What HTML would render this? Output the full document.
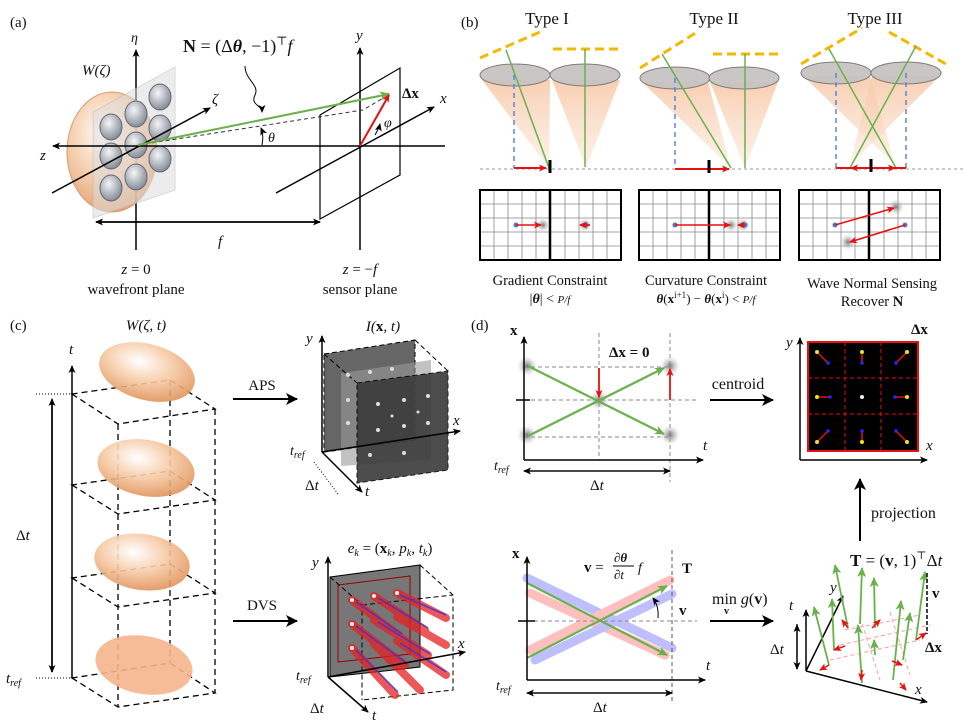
<!DOCTYPE html>
<html><head><meta charset="utf-8"><style>
html,body{margin:0;padding:0;background:#fff}
svg{display:block}
text{font-family:"Liberation Serif","DejaVu Serif",serif;fill:#111}
.i{font-style:italic}
</style></head><body>
<svg width="963" height="724" viewBox="0 0 963 724" xmlns="http://www.w3.org/2000/svg">
<defs>
<marker id="ak" markerWidth="8" markerHeight="8" refX="7" refY="4" orient="auto" markerUnits="userSpaceOnUse"><path d="M0,0.5 L8,4 L0,7.5 L2,4z" fill="#000"/></marker>
<marker id="ar" markerWidth="8" markerHeight="8" refX="7" refY="4" orient="auto" markerUnits="userSpaceOnUse"><path d="M0,0.5 L8,4 L0,7.5 L2,4z" fill="#e81010"/></marker>
<marker id="ag" markerWidth="10" markerHeight="10" refX="9" refY="5" orient="auto" markerUnits="userSpaceOnUse"><path d="M0,0.5 L10,5 L0,9.5 L2.5,5z" fill="#6ab04c"/></marker>
<marker id="abig" markerWidth="12" markerHeight="12" refX="11" refY="6" orient="auto" markerUnits="userSpaceOnUse"><path d="M0,0 L12,6 L0,12 L3,6z" fill="#000"/></marker>
<radialGradient id="og" cx="0.4" cy="0.35" r="0.7"><stop offset="0" stop-color="#fff"/><stop offset="0.5" stop-color="#f6c9a3"/><stop offset="1" stop-color="#df8e55"/></radialGradient>
<radialGradient id="lg" cx="0.4" cy="0.35" r="0.7"><stop offset="0" stop-color="#f4f6f8"/><stop offset="1" stop-color="#7d8590"/></radialGradient>
<radialGradient id="blob"><stop offset="0" stop-color="#777"/><stop offset="1" stop-color="#ccc" stop-opacity="0"/></radialGradient>
<linearGradient id="cone" x1="0" y1="0" x2="0" y2="1"><stop offset="0" stop-color="#f8c9a9" stop-opacity=".9"/><stop offset="1" stop-color="#fbe3d2" stop-opacity=".5"/></linearGradient>
</defs>

<!-- ===== (a) ===== -->
<text x="10" y="27" font-size="15">(a)</text>
<line x1="136" y1="250" x2="136" y2="50" stroke="#000" stroke-width="1.5" marker-end="url(#ak)"/>
<text x="131" y="42" font-size="14" class="i">η</text>
<ellipse cx="112" cy="152" rx="45" ry="60" fill="url(#og)" stroke="#d08a55" opacity=".85"/>
<polygon points="93,112 175,67 175,190 93,218" fill="#ddd" opacity=".55" stroke="#bbb"/>
<g fill="url(#lg)" stroke="#667">
<ellipse cx="111" cy="127" rx="11" ry="13"/><ellipse cx="136" cy="114" rx="11" ry="13"/><ellipse cx="160" cy="97" rx="11" ry="13"/>
<ellipse cx="111" cy="156" rx="11" ry="13"/><ellipse cx="136" cy="145" rx="11" ry="13"/><ellipse cx="160" cy="128" rx="11" ry="13"/>
<ellipse cx="111" cy="188" rx="11" ry="13"/><ellipse cx="136" cy="177" rx="11" ry="13"/><ellipse cx="160" cy="159" rx="11" ry="13"/>
</g>
<text x="82" y="75" font-size="15" class="i">W(ζ)</text>
<line x1="445" y1="146" x2="53" y2="146" stroke="#000" stroke-width="1.5" marker-end="url(#ak)"/>
<text x="40" y="160" font-size="15" class="i">z</text>
<line x1="52" y1="193" x2="210" y2="108" stroke="#000" stroke-width="1.5" marker-end="url(#ak)"/>
<text x="212" y="104" font-size="15" class="i">ζ</text>
<polygon points="320,115 400,68 400,175 320,219" fill="none" stroke="#000" stroke-width="1.2"/>
<line x1="360" y1="250" x2="360" y2="48" stroke="#000" stroke-width="1.5" marker-end="url(#ak)"/>
<text x="356" y="40" font-size="15" class="i">y</text>
<line x1="276" y1="193" x2="434" y2="107" stroke="#000" stroke-width="1.5" marker-end="url(#ak)"/>
<text x="440" y="103" font-size="15" class="i">x</text>
<path d="M138,145 L363,110 L390,94" fill="none" stroke="#333" stroke-dasharray="4,3"/>
<line x1="138" y1="145" x2="389" y2="94" stroke="#6ab04c" stroke-width="2" marker-end="url(#ag)"/>
<line x1="360" y1="146" x2="389" y2="95" stroke="#e81010" stroke-width="2" marker-end="url(#ar)"/>
<text x="402" y="98" font-size="15" font-weight="bold">Δx</text>
<text x="384" y="127" font-size="14" class="i">φ</text>
<path d="M262,145 Q264,135 261,128" fill="none" stroke="#000" marker-end="url(#ak)"/>
<text x="268" y="142" font-size="14" class="i">θ</text>
<path d="M375,135 Q379,128 380,124" fill="none" stroke="#000" marker-end="url(#ak)"/>
<text x="183" y="52" font-size="18"><tspan font-weight="bold">N</tspan> = (Δ<tspan font-weight="bold" class="i">θ</tspan>, −1)<tspan font-size="12" dy="-7">⊤</tspan><tspan dy="7" class="i">f</tspan></text>
<path d="M245,66 C245,80 260,85 255,95 S262,105 262,112" fill="none" stroke="#000" marker-end="url(#ak)"/>
<line x1="320" y1="222" x2="96" y2="222" stroke="#000" stroke-width="1.5" marker-end="url(#ak)"/>
<line x1="96" y1="222" x2="320" y2="222" stroke="#000" stroke-width="1.5" marker-end="url(#ak)"/>
<text x="218" y="246" font-size="15" class="i">f</text>
<text x="136" y="274" font-size="15" text-anchor="middle"><tspan class="i">z</tspan> = 0</text>
<text x="136" y="294" font-size="15" text-anchor="middle">wavefront plane</text>
<text x="360" y="274" font-size="15" text-anchor="middle"><tspan class="i">z</tspan> = −<tspan class="i">f</tspan></text>
<text x="360" y="294" font-size="15" text-anchor="middle">sensor plane</text>

<!-- ===== (b) ===== -->
<text x="461" y="27" font-size="15">(b)</text>
<text x="547" y="24" font-size="17" text-anchor="middle">Type I</text>
<text x="714" y="24" font-size="17" text-anchor="middle">Type II</text>
<text x="875" y="24" font-size="17" text-anchor="middle">Type III</text>
<line x1="480" y1="169" x2="963" y2="169" stroke="#999" stroke-dasharray="3,3"/>
<g fill="url(#cone)">
<polygon points="482,80 550,80 549,168"/><polygon points="552,80 620,80 586,168"/>
<polygon points="642,82 708,82 731,168"/><polygon points="710,82 778,82 745,168"/>
<polygon points="803,76 870,76 895,165"/><polygon points="872,76 940,76 850,165"/>
</g>
<g fill="#c8c4c2" stroke="#777" opacity=".95">
<ellipse cx="515" cy="75" rx="35" ry="11"/><ellipse cx="585" cy="75" rx="35" ry="11"/>
<ellipse cx="675" cy="78" rx="35" ry="11"/><ellipse cx="744" cy="78" rx="35" ry="11"/>
<ellipse cx="836" cy="73" rx="35" ry="11"/><ellipse cx="906" cy="73" rx="35" ry="11"/>
</g>
<g stroke="#f5b800" stroke-width="3" stroke-dasharray="9,5" fill="none">
<line x1="480" y1="58" x2="540" y2="32"/><line x1="553" y1="49" x2="620" y2="49"/>
<line x1="640" y1="68" x2="697" y2="32"/><line x1="713" y1="54" x2="778" y2="54"/>
<line x1="801" y1="64" x2="862" y2="28"/><line x1="889" y1="32" x2="946" y2="64"/>
</g>
<g stroke="#5b86d9" stroke-width="1.5" stroke-dasharray="5,4">
<line x1="514" y1="75" x2="514" y2="168"/><line x1="675" y1="78" x2="675" y2="168"/>
<line x1="836" y1="73" x2="836" y2="168"/><line x1="906" y1="73" x2="906" y2="168"/>
</g>
<g stroke="#6ab04c" stroke-width="1.5">
<line x1="506" y1="50" x2="549" y2="168"/><line x1="585" y1="49" x2="585" y2="167"/>
<line x1="662" y1="54" x2="731" y2="168"/><line x1="745" y1="54" x2="745" y2="168"/>
<line x1="829" y1="49" x2="896" y2="168"/><line x1="916" y1="46" x2="850" y2="168"/>
</g>
<g stroke="#e81010" stroke-width="2">
<line x1="514" y1="168" x2="546" y2="168" marker-end="url(#ar)"/>
<line x1="675" y1="169" x2="729" y2="169" marker-end="url(#ar)"/>
<line x1="836" y1="168" x2="906" y2="168"/>
<line x1="870" y1="168" x2="851" y2="168" marker-end="url(#ar)"/>
<line x1="880" y1="168" x2="895" y2="168" marker-end="url(#ar)"/>
</g>
<g stroke="#000" stroke-width="3"><line x1="550" y1="160" x2="550" y2="173"/><line x1="709" y1="160" x2="709" y2="173"/><line x1="871" y1="159" x2="871" y2="172"/></g>
<g id="grid">
<g stroke="#888" stroke-width="0.8">
<line x1="494" y1="190" x2="494" y2="260"/><line x1="508" y1="190" x2="508" y2="260"/><line x1="522" y1="190" x2="522" y2="260"/><line x1="536" y1="190" x2="536" y2="260"/>
<line x1="565" y1="190" x2="565" y2="260"/><line x1="579" y1="190" x2="579" y2="260"/><line x1="593" y1="190" x2="593" y2="260"/><line x1="607" y1="190" x2="607" y2="260"/>
<line x1="480" y1="204" x2="621" y2="204"/><line x1="480" y1="218" x2="621" y2="218"/><line x1="480" y1="232" x2="621" y2="232"/><line x1="480" y1="246" x2="621" y2="246"/>
</g>
<rect x="480" y="190" width="141" height="70" fill="none" stroke="#000" stroke-width="2"/>
<line x1="550" y1="190" x2="550" y2="260" stroke="#000" stroke-width="2.5"/>
</g>
<use href="#grid" x="159"/><use href="#grid" x="319"/>
<g fill="url(#blob)"><circle cx="543" cy="225" r="7"/><circle cx="585" cy="225" r="7"/><circle cx="731" cy="225" r="7"/><circle cx="743" cy="225" r="7"/><circle cx="896" cy="207" r="8"/><circle cx="848" cy="242" r="8"/></g>
<g fill="#4a78d8"><circle cx="516" cy="225" r="2.5"/><circle cx="586" cy="225" r="2.5"/><circle cx="675" cy="225" r="2.5"/><circle cx="745" cy="225" r="2.5"/><circle cx="835" cy="225" r="2.5"/><circle cx="905" cy="225" r="2.5"/></g>
<g stroke="#e81010" stroke-width="1.6">
<line x1="516" y1="225" x2="541" y2="225" marker-end="url(#ar)"/><line x1="590" y1="225" x2="580" y2="225" marker-end="url(#ar)"/>
<line x1="675" y1="225" x2="730" y2="225" marker-end="url(#ar)"/><line x1="745" y1="225" x2="738" y2="225" marker-end="url(#ar)"/>
<line x1="835" y1="225" x2="894" y2="208" marker-end="url(#ar)"/><line x1="905" y1="225" x2="850" y2="242" marker-end="url(#ar)"/>
</g>
<text x="550" y="285" font-size="14.5" text-anchor="middle">Gradient Constraint</text>
<text x="550" y="303" font-size="14" text-anchor="middle">|<tspan font-weight="bold" class="i">θ</tspan>| &lt; <tspan class="i" font-size="11">P/f</tspan></text>
<text x="706" y="285" font-size="14.5" text-anchor="middle">Curvature Constraint</text>
<text x="706" y="303" font-size="13" text-anchor="middle"><tspan font-weight="bold" class="i">θ</tspan>(<tspan font-weight="bold">x</tspan><tspan font-size="9" dy="-5">i+1</tspan><tspan dy="5">) − </tspan><tspan font-weight="bold" class="i">θ</tspan>(<tspan font-weight="bold">x</tspan><tspan font-size="9" dy="-5">i</tspan><tspan dy="5">) &lt; </tspan><tspan class="i" font-size="11">P/f</tspan></text>
<text x="872" y="288" font-size="14.5" text-anchor="middle">Wave Normal Sensing</text>
<text x="872" y="306" font-size="14.5" text-anchor="middle">Recover <tspan font-weight="bold">N</tspan></text>

<!-- ===== (c) ===== -->
<text x="10" y="330" font-size="15">(c)</text>
<text x="146" y="330" font-size="15" text-anchor="middle" class="i">W(ζ, t)</text>
<line x1="72" y1="678" x2="72" y2="366" stroke="#000" stroke-width="1.5" marker-end="url(#ak)"/>
<text x="69" y="354" font-size="15" class="i">t</text>
<line x1="52" y1="400" x2="52" y2="672" stroke="#000" stroke-width="1.5" marker-end="url(#ak)"/>
<line x1="52" y1="672" x2="52" y2="399" stroke="#000" stroke-width="1.5" marker-end="url(#ak)"/>
<line x1="36" y1="394" x2="72" y2="394" stroke="#000" stroke-dasharray="1,2"/>
<line x1="36" y1="678" x2="72" y2="678" stroke="#000" stroke-dasharray="1,2"/>
<text x="16" y="540" font-size="15">Δ<tspan class="i">t</tspan></text>
<text x="6" y="683" font-size="15" class="i">t<tspan font-size="10" dy="3">ref</tspan></text>
<g fill="none" stroke="#000" stroke-width="1.3" stroke-dasharray="6,4">
<polygon points="72,394 118,424 215,409 170,380"/>
<polygon points="72,485 118,514 215,500 170,471"/>
<polygon points="72,578 118,607 215,593 170,564"/>
<polygon points="72,678 118,707 215,693 170,663"/>
<line x1="118" y1="424" x2="118" y2="707"/><line x1="215" y1="409" x2="215" y2="693"/><line x1="170" y1="380" x2="170" y2="663"/>
</g>
<ellipse cx="147" cy="372" rx="49" ry="28" transform="rotate(15 147 372)" fill="url(#og)" opacity=".9"/>
<ellipse cx="146" cy="468" rx="49" ry="28" transform="rotate(10 146 468)" fill="url(#og)" opacity=".9"/>
<ellipse cx="142" cy="562" rx="48" ry="28" transform="rotate(8 142 562)" fill="url(#og)" opacity=".9"/>
<ellipse cx="144" cy="665" rx="49" ry="29" transform="rotate(10 144 665)" fill="#f4b58c" opacity=".9"/>
<line x1="233" y1="399" x2="297" y2="399" stroke="#000" stroke-width="2" marker-end="url(#abig)"/>
<text x="262" y="390" font-size="15" text-anchor="middle">APS</text>
<line x1="233" y1="621" x2="297" y2="621" stroke="#000" stroke-width="2" marker-end="url(#abig)"/>
<text x="262" y="610" font-size="15" text-anchor="middle">DVS</text>
<!-- APS cube -->
<text x="383" y="331" font-size="15" text-anchor="middle" class="i">I(<tspan font-weight="bold" font-style="normal">x</tspan>, t)</text>
<polygon points="324,354 415,340 415,440 324,452" fill="#666" stroke="#000" stroke-dasharray="5,3"/>
<polygon points="341,373 431,360 431,460 341,466" fill="#999" opacity=".6"/>
<polygon points="357,383 448,371 448,470 357,483" fill="#3a3a3a" opacity=".9" stroke="#000" stroke-dasharray="5,3"/>
<polyline points="415,340 448,371" fill="none" stroke="#000" stroke-dasharray="5,3"/>
<polyline points="324,354 357,383" fill="none" stroke="#000" stroke-dasharray="5,3"/>
<g fill="#ddd"><circle cx="348" cy="375" r="2"/><circle cx="370" cy="372" r="2"/><circle cx="392" cy="369" r="2"/><circle cx="348" cy="400" r="2"/><circle cx="378" cy="404" r="2"/><circle cx="404" cy="400" r="2"/><circle cx="428" cy="396" r="2"/><circle cx="348" cy="423" r="2"/><circle cx="378" cy="430" r="2"/><circle cx="404" cy="426" r="2"/><circle cx="428" cy="423" r="2"/><circle cx="370" cy="455" r="2"/><circle cx="404" cy="453" r="2"/><circle cx="392" cy="416" r="1.5"/><circle cx="418" cy="412" r="1.5"/></g>
<line x1="322" y1="452" x2="322" y2="336" stroke="#000" stroke-width="1.5" marker-end="url(#ak)"/>
<text x="306" y="343" font-size="15" class="i">y</text>
<line x1="322" y1="452" x2="460" y2="431" stroke="#000" stroke-width="1.5" marker-end="url(#ak)"/>
<text x="453" y="425" font-size="15" class="i">x</text>
<line x1="322" y1="452" x2="362" y2="492" stroke="#000" stroke-width="1.5" marker-end="url(#ak)"/>
<text x="365" y="496" font-size="15" class="i">t</text>
<line x1="314" y1="462" x2="338" y2="494" stroke="#000" stroke-dasharray="1,2"/>
<text x="290" y="455" font-size="14" class="i">t<tspan font-size="10" dy="3">ref</tspan></text>
<text x="305" y="490" font-size="15">Δ<tspan class="i">t</tspan></text>
<!-- DVS cube -->
<text x="390" y="553" font-size="15" text-anchor="middle"><tspan class="i">e<tspan font-size="10" dy="3">k</tspan></tspan><tspan dy="-3"> = (</tspan><tspan font-weight="bold">x</tspan><tspan class="i" font-size="10" dy="3">k</tspan><tspan dy="-3">, </tspan><tspan class="i">p<tspan font-size="10" dy="3">k</tspan><tspan dy="-3">, t</tspan><tspan font-size="10" dy="3">k</tspan></tspan><tspan dy="-3">)</tspan></text>
<polygon points="330,577 420,565 420,667 330,677" fill="#777" stroke="#000"/>
<polygon points="338,585 410,576 410,654 338,662" fill="none" stroke="#900"/>
<g fill="none" stroke="#000" stroke-dasharray="5,3"><polyline points="420,565 453,595 453,690 362,700"/><polyline points="330,577 362,605 362,700"/><line x1="362" y1="605" x2="453" y2="595"/></g>
<g stroke="#e62020" stroke-width="8" opacity=".75" stroke-linecap="round">
<line x1="352" y1="600" x2="400" y2="636"/><line x1="374" y1="596" x2="425" y2="630"/><line x1="397" y1="593" x2="446" y2="618"/>
<line x1="352" y1="624" x2="405" y2="665"/><line x1="374" y1="620" x2="428" y2="655"/><line x1="397" y1="617" x2="446" y2="645"/>
<line x1="352" y1="648" x2="395" y2="695"/><line x1="374" y1="644" x2="420" y2="690"/><line x1="397" y1="641" x2="446" y2="675"/>
</g>
<g stroke="#3434e0" stroke-width="1.5" opacity=".8">
<line x1="356" y1="602" x2="402" y2="634"/><line x1="378" y1="598" x2="428" y2="628"/><line x1="400" y1="595" x2="446" y2="615"/><line x1="356" y1="626" x2="405" y2="662"/><line x1="378" y1="622" x2="430" y2="654"/><line x1="356" y1="650" x2="398" y2="692"/><line x1="400" y1="643" x2="446" y2="672"/>
</g>
<g fill="#eee"><circle cx="352" cy="600" r="2"/><circle cx="374" cy="596" r="2"/><circle cx="397" cy="593" r="2"/><circle cx="352" cy="624" r="2"/><circle cx="352" cy="648" r="2"/></g>
<line x1="328" y1="677" x2="328" y2="557" stroke="#000" stroke-width="1.5" marker-end="url(#ak)"/>
<text x="312" y="567" font-size="15" class="i">y</text>
<line x1="328" y1="677" x2="465" y2="652" stroke="#000" stroke-width="1.5" marker-end="url(#ak)"/>
<text x="458" y="648" font-size="15" class="i">x</text>
<line x1="328" y1="677" x2="368" y2="712" stroke="#000" stroke-width="1.5" marker-end="url(#ak)"/>
<text x="372" y="720" font-size="15" class="i">t</text>
<text x="296" y="680" font-size="14" class="i">t<tspan font-size="10" dy="3">ref</tspan></text>
<text x="310" y="713" font-size="15">Δ<tspan class="i">t</tspan></text>

<!-- ===== (d) ===== -->
<text x="471" y="330" font-size="15">(d)</text>
<g stroke="#888" stroke-dasharray="4,3">
<line x1="524" y1="367" x2="670" y2="367"/><line x1="524" y1="400" x2="697" y2="400"/><line x1="524" y1="437" x2="670" y2="437"/>
<line x1="599" y1="333" x2="599" y2="460"/><line x1="670" y1="333" x2="670" y2="482"/>
</g>
<g fill="url(#blob)"><circle cx="527" cy="366" r="10"/><circle cx="527" cy="435" r="10"/><circle cx="599" cy="400" r="10"/><circle cx="670" cy="366" r="10"/><circle cx="670" cy="435" r="10"/></g>
<line x1="524" y1="460" x2="524" y2="337" stroke="#000" stroke-width="1.5" marker-end="url(#ak)"/>
<line x1="524" y1="460" x2="703" y2="460" stroke="#000" stroke-width="1.5" marker-end="url(#ak)"/>
<line x1="516" y1="400" x2="530" y2="400" stroke="#000" stroke-width="1.5"/>
<text x="510" y="335" font-size="15" font-weight="bold">x</text>
<text x="703" y="450" font-size="15" class="i">t</text>
<text x="494" y="470" font-size="14" class="i">t<tspan font-size="10" dy="3">ref</tspan></text>
<line x1="524" y1="471" x2="670" y2="471" stroke="#000" stroke-width="1.3" marker-end="url(#ak)"/>
<line x1="670" y1="471" x2="524" y2="471" stroke="#000" stroke-width="1.3" marker-end="url(#ak)"/>
<text x="590" y="490" font-size="15">Δ<tspan class="i">t</tspan></text>
<text x="609" y="357" font-size="15" font-weight="bold">Δx = 0</text>
<line x1="528" y1="366" x2="664" y2="434" stroke="#6ab04c" stroke-width="2.2" marker-end="url(#ag)"/>
<line x1="528" y1="436" x2="664" y2="368" stroke="#6ab04c" stroke-width="2.2" marker-end="url(#ag)"/>
<line x1="599" y1="368" x2="599" y2="397" stroke="#e81010" stroke-width="1.8" marker-end="url(#ar)"/>
<line x1="670" y1="400" x2="670" y2="369" stroke="#e81010" stroke-width="1.8" marker-end="url(#ar)"/>
<line x1="710" y1="400" x2="773" y2="400" stroke="#000" stroke-width="2" marker-end="url(#abig)"/>
<text x="738" y="389" font-size="16" text-anchor="middle">centroid</text>
<rect x="808" y="342" width="110" height="109" fill="#000" stroke="#e81010" stroke-width="2"/>
<g stroke="#e81010" stroke-dasharray="4,3"><line x1="845" y1="342" x2="845" y2="451"/><line x1="881" y1="342" x2="881" y2="451"/><line x1="808" y1="378" x2="918" y2="378"/><line x1="808" y1="414" x2="918" y2="414"/></g>
<g stroke="#e81010" stroke-width="1.5">
<line x1="817" y1="352" x2="828" y2="363"/><line x1="862" y1="352" x2="862" y2="363"/><line x1="907" y1="352" x2="896" y2="363"/>
<line x1="817" y1="397" x2="830" y2="397"/><line x1="907" y1="397" x2="895" y2="397"/>
<line x1="817" y1="442" x2="828" y2="431"/><line x1="862" y1="442" x2="862" y2="431"/><line x1="907" y1="442" x2="896" y2="431"/>
</g>
<g fill="#e6e61a"><circle cx="817" cy="352" r="2"/><circle cx="862" cy="352" r="2"/><circle cx="907" cy="352" r="2"/><circle cx="817" cy="397" r="2"/><circle cx="907" cy="397" r="2"/><circle cx="817" cy="442" r="2"/><circle cx="862" cy="442" r="2"/><circle cx="907" cy="442" r="2"/></g>
<g fill="#2626ff"><circle cx="828" cy="363" r="1.8"/><circle cx="862" cy="363" r="1.8"/><circle cx="896" cy="363" r="1.8"/><circle cx="830" cy="397" r="1.8"/><circle cx="895" cy="397" r="1.8"/><circle cx="828" cy="431" r="1.8"/><circle cx="862" cy="431" r="1.8"/><circle cx="896" cy="431" r="1.8"/></g>
<circle cx="862" cy="397" r="2" fill="#eee"/>
<line x1="800" y1="460" x2="800" y2="338" stroke="#000" stroke-width="1.5" marker-end="url(#ak)"/>
<line x1="800" y1="460" x2="927" y2="460" stroke="#000" stroke-width="1.5" marker-end="url(#ak)"/>
<text x="786" y="347" font-size="15" class="i">y</text>
<text x="926" y="450" font-size="15" class="i">x</text>
<text x="911" y="334" font-size="15" font-weight="bold">Δx</text>
<line x1="860" y1="541" x2="860" y2="479" stroke="#000" stroke-width="2" marker-end="url(#abig)"/>
<text x="871" y="518" font-size="16">projection</text>
<text x="850" y="566" font-size="17"><tspan font-weight="bold">T</tspan> = (<tspan font-weight="bold">v</tspan>, 1)<tspan font-size="11" dy="-7">⊤</tspan><tspan dy="7">Δ</tspan><tspan class="i">t</tspan></text>
<g stroke-linecap="round" opacity=".5" stroke-width="9">
<line x1="527" y1="578" x2="672" y2="648" stroke="#8080ff"/><line x1="530" y1="593" x2="665" y2="655" stroke="#ff8080"/>
<line x1="530" y1="650" x2="670" y2="580" stroke="#ff8080"/><line x1="535" y1="660" x2="672" y2="594" stroke="#8080ff"/>
</g>
<line x1="527" y1="583" x2="667" y2="655" stroke="#6ab04c" stroke-width="2.2" marker-end="url(#ag)"/>
<line x1="527" y1="658" x2="667" y2="586" stroke="#6ab04c" stroke-width="2.2" marker-end="url(#ag)"/>
<line x1="527" y1="621" x2="697" y2="621" stroke="#888" stroke-dasharray="4,3"/>
<line x1="672" y1="550" x2="672" y2="702" stroke="#555" stroke-dasharray="4,3"/>
<line x1="527" y1="680" x2="527" y2="557" stroke="#000" stroke-width="1.5" marker-end="url(#ak)"/>
<line x1="527" y1="680" x2="705" y2="680" stroke="#000" stroke-width="1.5" marker-end="url(#ak)"/>
<line x1="518" y1="621" x2="535" y2="621" stroke="#000" stroke-width="1.5"/>
<path d="M658,618 Q659,606 653,598" fill="none" stroke="#000" marker-end="url(#ak)"/>
<text x="512" y="558" font-size="15" font-weight="bold">x</text>
<text x="706" y="670" font-size="15" class="i">t</text>
<text x="496" y="690" font-size="14" class="i">t<tspan font-size="10" dy="3">ref</tspan></text>
<line x1="527" y1="693" x2="672" y2="693" stroke="#000" stroke-width="1.3" marker-end="url(#ak)"/>
<line x1="672" y1="693" x2="527" y2="693" stroke="#000" stroke-width="1.3" marker-end="url(#ak)"/>
<text x="593" y="712" font-size="15">Δ<tspan class="i">t</tspan></text>
<text x="584" y="572" font-size="15"><tspan font-weight="bold">v</tspan> = </text>
<text x="614" y="562" font-size="13" font-weight="bold" font-style="italic">∂θ</text>
<line x1="613" y1="566" x2="634" y2="566" stroke="#000"/>
<text x="614" y="579" font-size="13" font-style="italic">∂t</text>
<text x="638" y="572" font-size="14" class="i">f</text>
<text x="682" y="573" font-size="15" font-weight="bold">T</text>
<text x="679" y="615" font-size="15" font-weight="bold">v</text>
<line x1="710" y1="621" x2="773" y2="621" stroke="#000" stroke-width="2" marker-end="url(#abig)"/>
<text x="712" y="604" font-size="16">min <tspan class="i">g</tspan>(<tspan font-weight="bold">v</tspan>)</text>
<text x="724" y="614" font-size="10" font-weight="bold">v</text>
<g stroke="#f5a0a0" stroke-dasharray="4,3"><line x1="830" y1="660" x2="920" y2="640"/><line x1="840" y1="645" x2="930" y2="625"/><line x1="845" y1="630" x2="920" y2="615"/><line x1="860" y1="617" x2="880" y2="680"/><line x1="890" y1="612" x2="910" y2="675"/></g>
<line x1="806" y1="671" x2="843" y2="596" stroke="#000" stroke-width="1.5" marker-end="url(#ak)"/>
<line x1="806" y1="671" x2="806" y2="610" stroke="#000" stroke-width="1.5" marker-end="url(#ak)"/>
<line x1="806" y1="671" x2="927" y2="702" stroke="#000" stroke-width="1.5" marker-end="url(#ak)"/>
<text x="789" y="610" font-size="15" class="i">t</text>
<text x="830" y="592" font-size="15" class="i">y</text>
<text x="770" y="654" font-size="15">Δ<tspan class="i">t</tspan></text>
<text x="915" y="694" font-size="15" class="i">x</text>
<line x1="797" y1="624" x2="797" y2="669" stroke="#000" stroke-width="1.3" marker-end="url(#ak)"/>
<line x1="797" y1="669" x2="797" y2="625" stroke="#000" stroke-width="1.3" marker-end="url(#ak)"/>
<g stroke="#6ab04c" stroke-width="1.8">
<line x1="829" y1="665" x2="814" y2="607" marker-end="url(#ag)"/>
<line x1="848" y1="628" x2="835" y2="565" marker-end="url(#ag)"/>
<line x1="834" y1="650" x2="832" y2="599" marker-end="url(#ag)"/>
<line x1="860" y1="624" x2="862" y2="568" marker-end="url(#ag)"/>
<line x1="862" y1="683" x2="858" y2="625" marker-end="url(#ag)"/>
<line x1="875" y1="628" x2="874" y2="578" marker-end="url(#ag)"/>
<line x1="875" y1="655" x2="874" y2="640" marker-end="url(#ag)"/>
<line x1="893" y1="680" x2="901" y2="601" marker-end="url(#ag)"/>
<line x1="903" y1="660" x2="910" y2="613" marker-end="url(#ag)"/>
<line x1="916" y1="640" x2="925" y2="572" marker-end="url(#ag)"/>
</g>
<g stroke="#e81010" stroke-width="1.5">
<line x1="829" y1="665" x2="820" y2="670" marker-end="url(#ar)"/>
<line x1="845" y1="646" x2="834" y2="650" marker-end="url(#ar)"/>
<line x1="848" y1="628" x2="842" y2="620" marker-end="url(#ar)"/>
<line x1="862" y1="670" x2="861" y2="680" marker-end="url(#ar)"/>
<line x1="900" y1="683" x2="906" y2="690" marker-end="url(#ar)"/>
<line x1="892" y1="661" x2="902" y2="665" marker-end="url(#ar)"/>
<line x1="872" y1="628" x2="880" y2="620" marker-end="url(#ar)"/>
<line x1="916" y1="640" x2="926" y2="633" marker-end="url(#ar)"/>
</g>
<line x1="927" y1="573" x2="927" y2="634" stroke="#000" stroke-dasharray="4,2" stroke-width="1.5"/>
<text x="932" y="598" font-size="15" font-weight="bold">v</text>
<text x="925" y="652" font-size="15" font-weight="bold">Δx</text>
</svg>
</body></html>
